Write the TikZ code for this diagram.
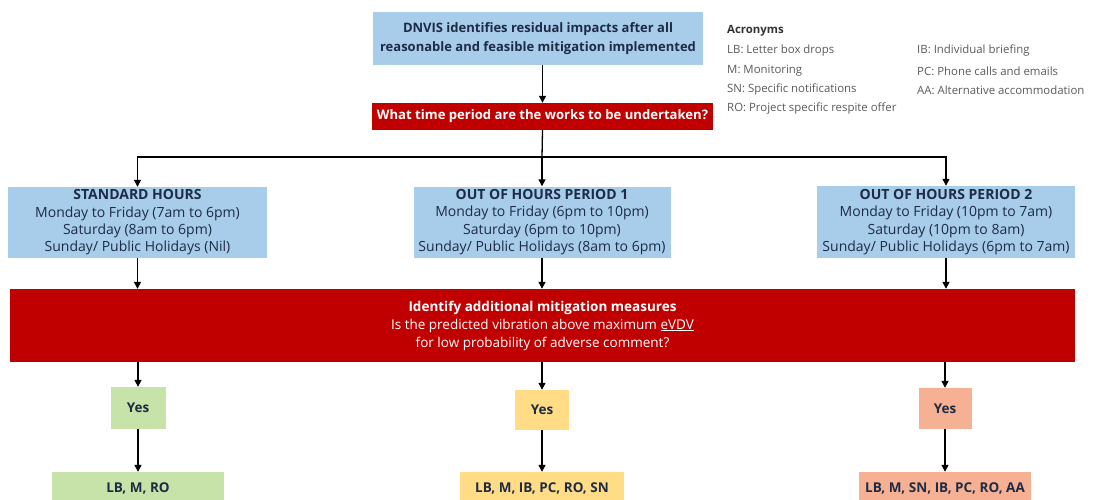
\documentclass[tikz,border=0pt]{standalone}
\usepackage{fontspec}
\setmainfont{Open Sans}
\usetikzlibrary{arrows.meta}
\definecolor{lblue}{HTML}{A7CDEA}
\definecolor{dred}{HTML}{C00000}
\definecolor{lgreen}{HTML}{C7E3A9}
\definecolor{lyellow}{HTML}{FFDC85}
\definecolor{lsalmon}{HTML}{F6B094}
\definecolor{navy}{HTML}{1E2B45}
\definecolor{agray}{HTML}{5A5A5A}
\tikzset{
  box/.style={rectangle, inner sep=0pt, align=center, text=navy},
  bluebox/.style={box, fill=lblue, font=\fontsize{14}{17.3}\selectfont},
  redbox/.style={box, fill=dred, text=white},
  yesbox/.style={box, font=\fontsize{13.5}{15}\selectfont\bfseries},
  conn/.style={draw=black, line width=1.3pt, -{Triangle[length=7pt,width=7pt]}},
  plain/.style={draw=black, line width=1.3pt},
  acr/.style={anchor=west, inner sep=0pt, text=agray, font=\fontsize{11.4}{13}\selectfont}
}
\begin{document}
\begin{tikzpicture}[x=1pt,y=-1pt]
\useasboundingbox (0,0) rectangle (1105,500);
% top
\node[box, fill=lblue, minimum width=330pt, minimum height=53pt, font=\fontsize{13}{18.5}\selectfont\bfseries] (top) at (538,38.5)
  {DNVIS identifies residual impacts after all\\reasonable and feasible mitigation implemented};
\node[redbox, minimum width=341pt, minimum height=27pt, font=\fontsize{13.1}{15}\selectfont\bfseries] (q) at (542.5,116.5)
  {What time period are the works to be undertaken?};
% acronyms
\node[acr, font=\fontsize{11.4}{13}\selectfont\bfseries, text=black!80] (acrh) at (727,31) {Acronyms};
\node[acr] (lb) at (727,51) {LB: Letter box drops};
\node[acr] (m) at (727,71) {M: Monitoring};
\node[acr] (sn) at (727,90) {SN: Specific notifications};
\node[acr] (ro) at (727,109) {RO: Project specific respite offer};
\node[acr] (ib) at (917,51) {IB: Individual briefing};
\node[acr] (pc) at (917,71) {PC: Phone calls and emails};
\node[acr] (aa) at (917,90) {AA: Alternative accommodation};
% period boxes
\node[bluebox, minimum width=259pt, minimum height=71pt] (std) at (137.5,222.5)
  {\textbf{STANDARD HOURS}\\Monday to Friday (7am to 6pm)\\Saturday (8am to 6pm)\\Sunday/ Public Holidays (Nil)};
\node[bluebox, minimum width=257pt, minimum height=71pt] (ooh1) at (542,222)
  {\textbf{OUT OF HOURS PERIOD 1}\\Monday to Friday (6pm to 10pm)\\Saturday (6pm to 10pm)\\Sunday/ Public Holidays (8am to 6pm)};
\node[bluebox, minimum width=258pt, minimum height=72pt] (ooh2) at (946,222)
  {\textbf{OUT OF HOURS PERIOD 2}\\Monday to Friday (10pm to 7am)\\Saturday (10pm to 8am)\\Sunday/ Public Holidays (6pm to 7am)};
% mitigation
\node[redbox, minimum width=1065pt, minimum height=73pt, font=\fontsize{13.5}{18}\selectfont] (mit) at (542.5,325.5)
  {\textbf{Identify additional mitigation measures}\\Is the predicted vibration above maximum \underline{eVDV}\\for low probability of adverse comment?};
% yes boxes
\node[yesbox, fill=lgreen, minimum width=55pt, minimum height=42pt] (yes1) at (138,408) {Yes};
\node[yesbox, fill=lyellow, minimum width=54pt, minimum height=40pt] (yes2) at (542,410) {Yes};
\node[yesbox, fill=lsalmon, minimum width=53pt, minimum height=41pt] (yes3) at (945,408.5) {Yes};
% results
\node[yesbox, fill=lgreen, minimum width=172pt, minimum height=32pt] (res1) at (138,488) {LB, M, RO};
\node[yesbox, fill=lyellow, minimum width=164pt, minimum height=32pt] (res2) at (542,488) {LB, M, IB, PC, RO, SN};
\node[yesbox, fill=lsalmon, minimum width=172pt, minimum height=32pt] (res3) at (945,488) {LB, M, SN, IB, PC, RO, AA};
% connectors
\coordinate (j) at (542,157);
\draw[conn] (top.south -| q.north) -- (q.north);
\draw[plain] (q.south) -- (j);
\draw[conn] (j) -| (std.north);
\draw[conn] (j) -- (ooh1.north);
\draw[conn] (j) -| (ooh2.north);
\draw[conn] (std.south) -- (std.south |- mit.north);
\draw[conn] (ooh1.south) -- (ooh1.south |- mit.north);
\draw[conn] (ooh2.south) -- (ooh2.south |- mit.north);
\draw[conn] (yes1 |- mit.south) -- (yes1.north);
\draw[conn] (yes2 |- mit.south) -- (yes2.north);
\draw[conn] (yes3 |- mit.south) -- (yes3.north);
\draw[conn] (yes1.south) -- (res1.north);
\draw[conn] (yes2.south) -- (res2.north);
\draw[conn] (yes3.south) -- (res3.north);
\end{tikzpicture}
\end{document}
